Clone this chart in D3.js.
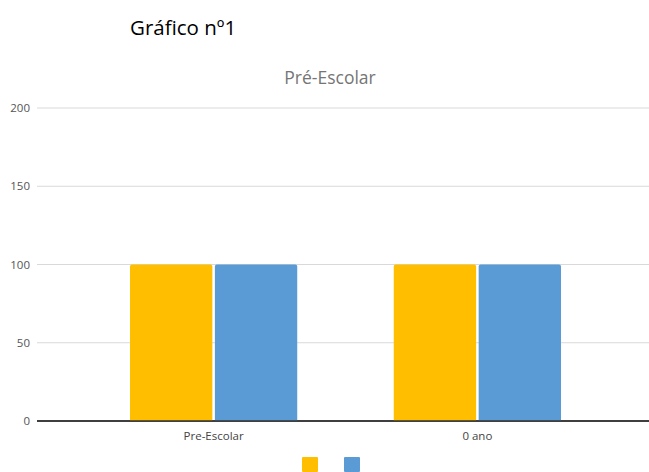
<!DOCTYPE html>
<html><head><meta charset="utf-8">
<script src="https://cdn.jsdelivr.net/npm/d3@7"></script>
<style>body{margin:0;background:#fff}svg{display:block}</style>
</head><body>
<svg id="c" width="649" height="472"></svg>
<script>
const categories = ["Pre-Escolar", "0 ano"];
const seriesNames = ["", ""];
const seriesA = [100, 100];
const seriesB = [100, 100];
const colors = ["#FFBF00", "#5B9BD5"];
const yTicks = [0, 50, 100, 150, 200];

(function () {
const svg = d3.select("#c");
const plotL = 37, plotR = 649, plotTop = 108, plotBottom = 421;

svg.append("text").attr("x", 130).attr("y", 35).attr("font-family", "Open Sans, sans-serif")
  .attr("font-size", 20.5).attr("fill", "#000").text("Gráfico nº1");
svg.append("text").attr("x", 330).attr("y", 84).attr("text-anchor", "middle")
  .attr("font-family", "Open Sans, sans-serif").attr("font-size", 17.5).attr("fill", "#757575").text("Pré-Escolar");

const y = d3.scaleLinear().domain([0, 200]).range([plotBottom, plotTop]);
const x0 = d3.scaleBand().domain(categories).range([130, 561]).paddingInner(0.366).paddingOuter(0);
const x1 = d3.scaleBand().domain([0, 1]).range([0, x0.bandwidth()]).paddingInner(0.03);

const grid = svg.append("g");
yTicks.forEach(t => {
  grid.append("line").attr("x1", plotL).attr("x2", plotR).attr("y1", y(t)).attr("y2", y(t))
    .attr("stroke", t === 0 ? "#333" : "#d9d9d9").attr("stroke-width", t === 0 ? 1.3 : 1);
  grid.append("text").attr("x", 30).attr("y", y(t)).attr("dy", "0.35em").attr("text-anchor", "end")
    .attr("font-family", "Open Sans, sans-serif").attr("font-size", 11.5).attr("fill", "#555").text(t);
});

const data = categories.map((c, i) => ({c, vals: [seriesA[i], seriesB[i]]}));
const g = svg.append("g");
data.forEach(d => {
  d.vals.forEach((v, j) => {
    const bx = x0(d.c) + x1(j), bw = x1.bandwidth(), by = y(v), bh = y(0) - y(v), r = 2;
    g.append("path").attr("fill", colors[j])
      .attr("d", `M${bx},${by + bh}V${by + r}Q${bx},${by} ${bx + r},${by}H${bx + bw - r}Q${bx + bw},${by} ${bx + bw},${by + r}V${by + bh}Z`);
  });
  svg.append("text").attr("x", x0(d.c) + x0.bandwidth() / 2).attr("y", 440).attr("text-anchor", "middle")
    .attr("font-family", "Open Sans, sans-serif").attr("font-size", 11.5).attr("fill", "#444").text(d.c);
});
svg.append("line").attr("x1", plotL).attr("x2", plotR).attr("y1", y(0)).attr("y2", y(0))
  .attr("stroke", "#333").attr("stroke-width", 1.3);

const lx = [302, 344];
seriesNames.forEach((n, j) => {
  svg.append("rect").attr("x", lx[j]).attr("y", 457).attr("width", 16).attr("height", 15).attr("rx", 1).attr("fill", colors[j]);
  svg.append("text").attr("x", lx[j] + 20).attr("y", 468).attr("font-size", 10).text(n);
});
})();
</script>
</body></html>
